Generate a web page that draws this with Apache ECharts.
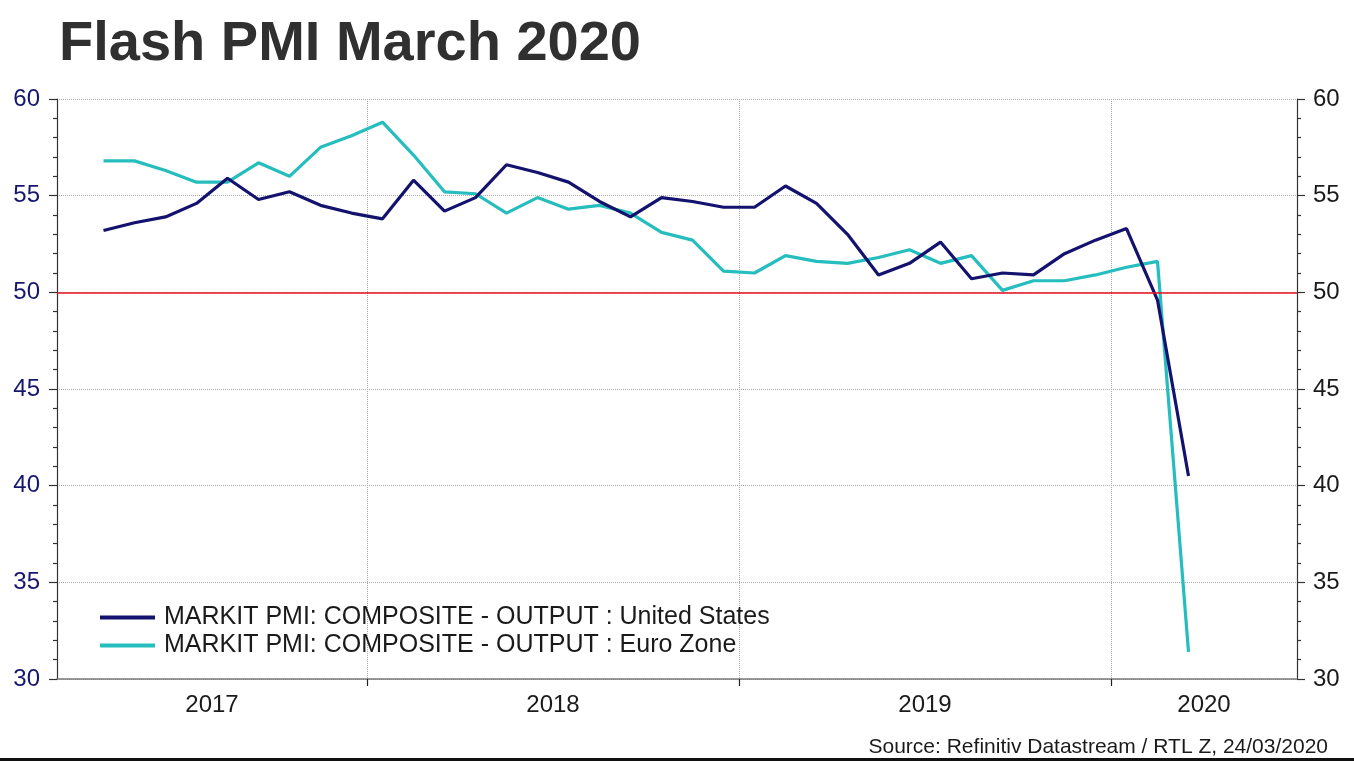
<!DOCTYPE html>
<html>
<head>
<meta charset="utf-8">
<script src="https://cdn.jsdelivr.net/npm/echarts@6/dist/echarts.min.js"></script>
<style>
html,body{margin:0;padding:0;background:#fff;}
#chart{width:1354px;height:762px;}
</style>
</head>
<body>
<div id="chart"></div>
<script>
const months = [
  '2017-04','2017-05','2017-06','2017-07','2017-08','2017-09','2017-10','2017-11','2017-12',
  '2018-01','2018-02','2018-03','2018-04','2018-05','2018-06','2018-07','2018-08','2018-09','2018-10','2018-11','2018-12',
  '2019-01','2019-02','2019-03','2019-04','2019-05','2019-06','2019-07','2019-08','2019-09','2019-10','2019-11','2019-12',
  '2020-01','2020-02','2020-03'
];
const usPMI = [
  53.2, 53.6, 53.9, 54.6, 55.9, 54.8, 55.2, 54.5, 54.1,
  53.8, 55.8, 54.2, 54.9, 56.6, 56.2, 55.7, 54.7, 53.9, 54.9, 54.7, 54.4,
  54.4, 55.5, 54.6, 53.0, 50.9, 51.5, 52.6, 50.7, 51.0, 50.9, 52.0, 52.7,
  53.3, 49.6, 40.5
];
const ezPMI = [
  56.8, 56.8, 56.3, 55.7, 55.7, 56.7, 56.0, 57.5, 58.1,
  58.8, 57.1, 55.2, 55.1, 54.1, 54.9, 54.3, 54.5, 54.1, 53.1, 52.7, 51.1,
  51.0, 51.9, 51.6, 51.5, 51.8, 52.2, 51.5, 51.9, 50.1, 50.6, 50.6, 50.9,
  51.3, 51.6, 31.4
];
const yearLabels = ['2017','2018','2019','2020'];
const seriesNames = [
  'MARKIT PMI: COMPOSITE - OUTPUT : United States',
  'MARKIT PMI: COMPOSITE - OUTPUT : Euro Zone'
];
const yTicks = ['30','35','40','45','50','55','60'];

// axis in months counted from 1 March 2017
const AXIS_START_YEAR = 2017, AXIS_START_MONTH = 3, AXIS_END = 40;
function monthPos(ym){
  const [y,m] = ym.split('-').map(Number);
  return (y - AXIS_START_YEAR) * 12 + (m - AXIS_START_MONTH) + 0.5;
}
function yearStart(y){ return (y - AXIS_START_YEAR) * 12 - (AXIS_START_MONTH - 1); }
const yearBounds = yearLabels.slice(1).map(y => yearStart(Number(y)));
const yearCenters = yearLabels.map(y => {
  const s = Math.max(0, yearStart(Number(y)));
  const e = Math.min(AXIS_END, yearStart(Number(y) + 1));
  return (s + e) / 2;
});
function yearOf(v){
  for (let i = 0; i < yearLabels.length; i++) {
    if (Math.abs(yearCenters[i] - v) < 0.01) return yearLabels[i];
  }
  return '';
}

const usData = months.map((m,i) => [monthPos(m), usPMI[i]]);
const ezData = months.map((m,i) => [monthPos(m), ezPMI[i]]);

const FONT = 'Liberation Sans, Arial, Helvetica, sans-serif';
const chart = echarts.init(document.getElementById('chart'));
chart.setOption({
  animation: false,
  backgroundColor: '#ffffff',
  title: [
    { text: 'Flash PMI March 2020', left: 54, top: 12,
      textStyle: { fontFamily: FONT, fontWeight: 'bold', fontSize: 56, color: '#303030' } },
    { text: 'Source: Refinitiv Datastream / RTL Z, 24/03/2020', right: 21, top: 732,
      textStyle: { fontFamily: FONT, fontWeight: 'normal', fontSize: 21, color: '#1a1a1a' } }
  ],
  grid: { left: 57, right: 57, top: 99, bottom: 83, containLabel: false },
  legend: {
    orient: 'vertical', left: 95, top: 600,
    icon: 'rect', itemWidth: 55, itemHeight: 4, itemGap: 3,
    textStyle: { fontFamily: FONT, fontSize: 25, color: '#1a1a1a', lineHeight: 25, padding: [0,0,0,4] },
    data: seriesNames
  },
  xAxis: {
    type: 'value', min: 0, max: AXIS_END,
    axisLine: { show: true, lineStyle: { color: '#7a7a7a', width: 1.5 } },
    axisTick: { show: true, customValues: yearBounds, length: 7, inside: false, lineStyle: { color: '#222', width: 1.2 } },
    axisLabel: { show: true, customValues: yearCenters, formatter: v => yearOf(v), margin: 14,
      fontFamily: FONT, fontSize: 24, color: '#1a1a1a' },
    splitLine: { show: true, lineStyle: { color: '#a8a8a8', type: 'dotted', width: 1 } }
  },
  yAxis: [
    { type: 'value', min: 30, max: 60, interval: 5, position: 'left',
      axisLine: { show: true, lineStyle: { color: '#333', width: 1.2 } },
      axisTick: { show: true, length: 8, lineStyle: { color: '#333', width: 1.2 } },
      minorTick: { show: true, splitNumber: 5, length: 4, lineStyle: { color: '#333', width: 1.2 } },
      axisLabel: { margin: 17, fontFamily: FONT, fontSize: 24, color: '#16166e',
        formatter: v => yTicks[yTicks.indexOf(String(v))] },
      splitLine: { show: true, lineStyle: { color: '#a8a8a8', type: 'dotted', width: 1 } }
    },
    { type: 'value', min: 30, max: 60, interval: 5, position: 'right',
      axisLine: { show: true, lineStyle: { color: '#333', width: 1.2 } },
      axisTick: { show: true, length: 8, lineStyle: { color: '#333', width: 1.2 } },
      minorTick: { show: true, splitNumber: 5, length: 4, lineStyle: { color: '#333', width: 1.2 } },
      axisLabel: { margin: 16, fontFamily: FONT, fontSize: 24, color: '#1a1a1a',
        formatter: v => yTicks[yTicks.indexOf(String(v))] },
      splitLine: { show: false }
    }
  ],
  series: [
    { name: seriesNames[0], type: 'line', data: usData, yAxisIndex: 0,
      showSymbol: false, symbol: 'none', smooth: false, z: 4,
      lineStyle: { color: '#13136f', width: 3.2 }, itemStyle: { color: '#13136f' },
      markLine: { silent: true, symbol: 'none', label: { show: false },
        lineStyle: { color: '#e8121c', width: 1.5, type: 'solid' },
        data: [{ yAxis: 50 }] }
    },
    { name: seriesNames[1], type: 'line', data: ezData, yAxisIndex: 0,
      showSymbol: false, symbol: 'none', smooth: false, z: 3,
      lineStyle: { color: '#25bdbd', width: 3.2 }, itemStyle: { color: '#25bdbd' } }
  ],
  graphic: [
    { type: 'rect', left: 0, top: 758, shape: { width: 1354, height: 3 }, style: { fill: '#111' } }
  ]
});
</script>
</body>
</html>
